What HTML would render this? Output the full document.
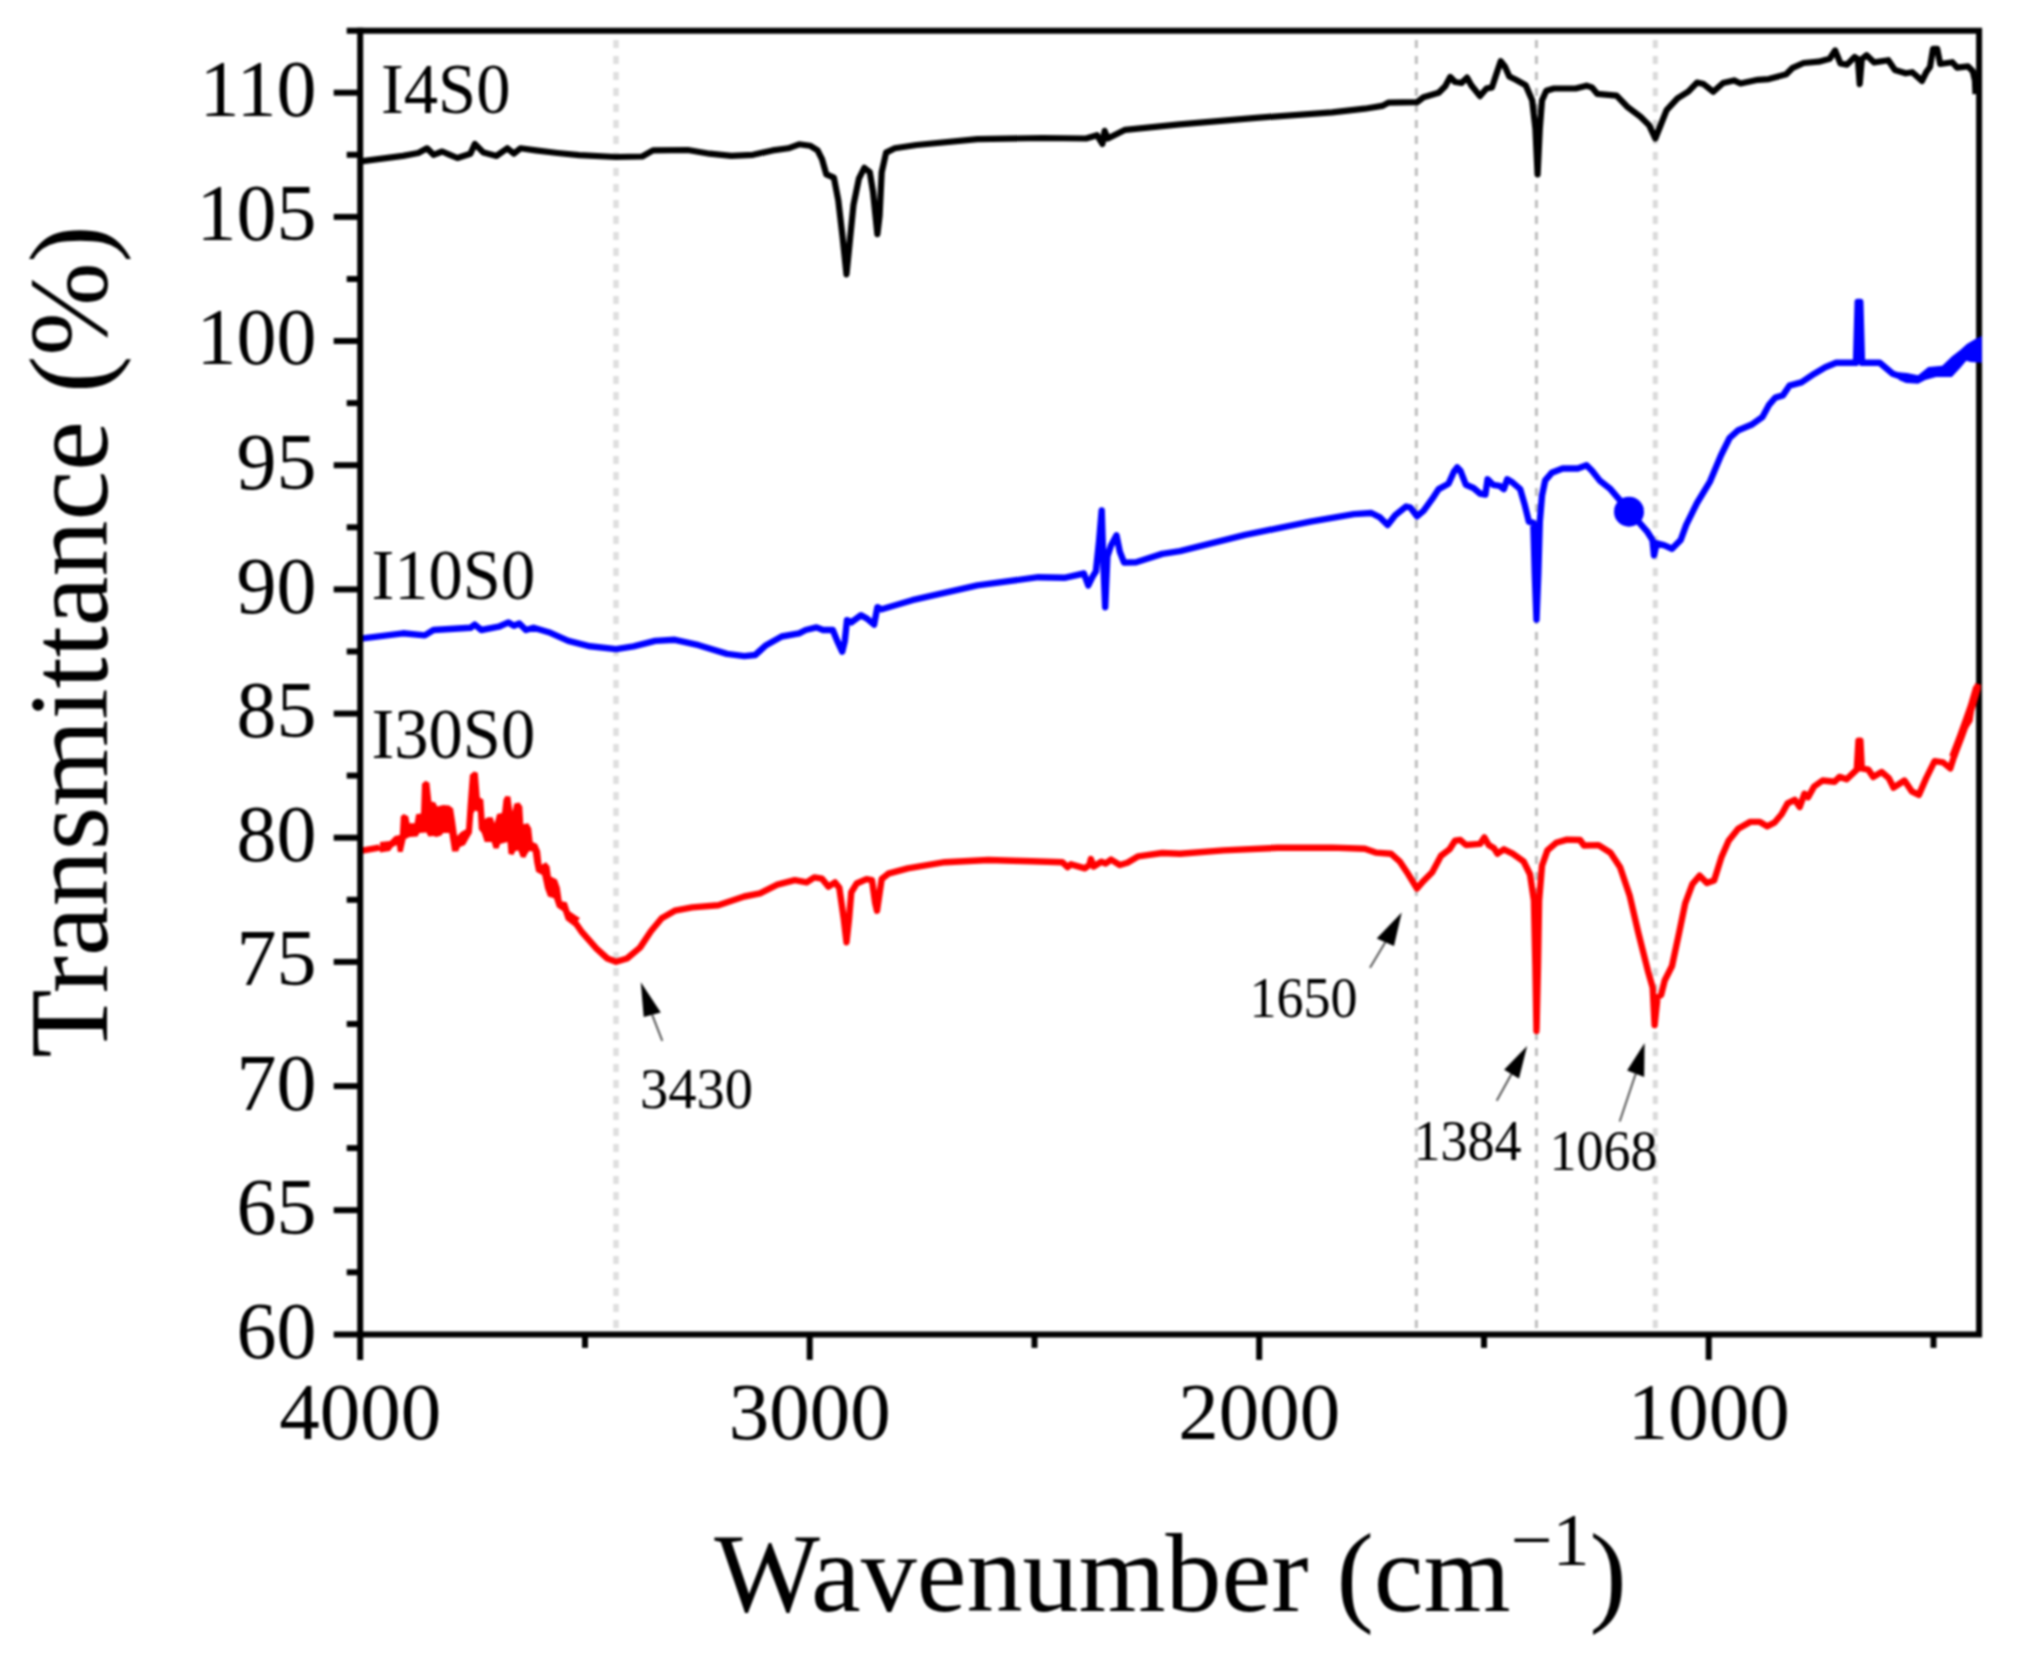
<!DOCTYPE html>
<html><head><meta charset="utf-8"><title>FTIR spectra</title>
<style>html,body{margin:0;padding:0;background:#fff}svg{display:block;filter:blur(0.8px)}</style></head>
<body>
<svg width="2024" height="1660" viewBox="0 0 2024 1660">
<rect width="2024" height="1660" fill="#fff"/>
<line x1="616" y1="40" x2="616" y2="1331" stroke="#dedede" stroke-width="5.5" stroke-dasharray="8 8"/>
<line x1="1416.3" y1="40" x2="1416.3" y2="1331" stroke="#bdbdbd" stroke-width="3" stroke-dasharray="8 8"/>
<line x1="1536.4" y1="40" x2="1536.4" y2="1331" stroke="#bdbdbd" stroke-width="3" stroke-dasharray="8 8"/>
<line x1="1655.3" y1="40" x2="1655.3" y2="1331" stroke="#dadada" stroke-width="5" stroke-dasharray="8 8"/>
<path d="M1979.1,27.7 V1337.4 M346.7,30.7 H1982.1 M333.7,1334.4 H1982.1" stroke="#000" stroke-width="6" fill="none"/>
<path d="M360.7,161.3 L403.0,155.9 L418.3,153.0 L427.0,148.3 L433.5,154.8 L442.2,151.5 L448.7,154.3 L457.4,158.0 L470.4,153.7 L474.8,143.9 L483.5,152.6 L496.5,155.9 L507.4,148.3 L513.9,153.7 L520.4,148.3 L535.7,150.4 L557.4,153.0 L579.1,155.2 L615.7,157.0 L642.2,156.5 L653.0,150.4 L687.8,150.0 L709.6,153.7 L731.3,155.9 L753.0,154.8 L772.6,150.4 L788.3,148.3 L799.1,144.3 L810.0,145.7 L817.6,150.4 L822.0,159.1 L826.3,174.3 L833.9,177.6 L838.3,200.4 L842.6,237.4 L846.5,274.3 L850.2,237.4 L853.5,204.8 L858.9,178.7 L864.3,167.8 L869.8,172.2 L873.0,191.7 L877.4,234.1 L879.6,215.7 L881.7,172.2 L886.1,152.6 L894.8,148.3 L916.5,145.0 L977.4,139.1 L1042.6,138.0 L1086.1,138.5 L1097.0,135.2 L1102.4,143.9 L1104.6,130.9 L1107.8,138.5 L1125.2,129.8 L1179.6,124.3 L1256.1,117.8 L1332.2,112.4 L1364.8,108.7 L1382.2,105.9 L1388.7,102.6 L1417.0,102.2 L1423.5,97.2 L1438.7,92.8 L1445.2,86.3 L1450.2,77.0 L1455.0,82.0 L1461.5,83.0 L1467.0,77.6 L1471.3,85.2 L1480.0,96.1 L1486.5,88.5 L1492.0,87.4 L1496.3,74.3 L1500.7,61.3 L1505.0,66.7 L1509.3,76.5 L1515.9,79.8 L1525.7,85.2 L1532.2,100.4 L1535.4,128.7 L1537.6,174.3 L1539.8,128.7 L1542.0,100.4 L1546.3,90.7 L1553.9,88.5 L1575.7,88.5 L1586.5,85.7 L1592.0,87.4 L1597.4,93.9 L1616.6,95.7 L1627.5,107.0 L1640.5,116.7 L1649.2,125.4 L1655.3,138.5 L1660.1,126.5 L1666.6,110.2 L1677.5,98.3 L1688.3,91.7 L1697.0,82.6 L1703.6,84.1 L1713.3,91.7 L1723.1,83.0 L1734.0,80.4 L1740.5,83.5 L1757.9,79.8 L1768.8,79.1 L1786.2,74.3 L1792.7,67.8 L1803.6,63.0 L1818.8,61.7 L1829.7,58.7 L1835.1,50.4 L1840.5,63.5 L1847.0,64.6 L1854.7,57.0 L1857.9,59.1 L1859.7,84.1 L1861.8,59.1 L1866.6,55.2 L1874.2,62.4 L1888.3,60.2 L1894.9,70.0 L1905.7,73.3 L1912.3,72.2 L1922.0,80.9 L1926.4,71.8 L1930.0,67.0 L1933.0,48.9 L1937.2,48.9 L1940.2,64.0 L1952.3,62.2 L1957.1,67.6 L1968.0,66.4 L1972.8,71.2 L1974.9,80.2 L1975.5,94.1" fill="none" stroke="#000" stroke-width="6.2" stroke-linejoin="round" stroke-linecap="butt"/>
<path d="M360.7,638.7 L403.0,633.3 L424.8,635.4 L433.5,630.0 L470.4,627.8 L474.8,624.6 L481.3,630.0 L498.7,626.7 L508.5,622.4 L513.9,625.7 L519.3,623.5 L525.9,630.0 L533.5,627.8 L548.7,632.2 L568.3,640.9 L590.0,646.3 L616.1,649.1 L633.5,646.3 L655.2,640.9 L674.8,639.8 L698.7,645.2 L727.0,653.9 L744.3,656.1 L755.2,655.0 L766.1,645.2 L781.7,636.5 L799.1,633.3 L805.7,630.0 L816.5,627.4 L823.0,630.0 L832.8,630.0 L837.2,640.9 L842.2,651.7 L844.8,640.9 L847.0,620.2 L851.3,622.4 L861.1,615.2 L867.6,619.1 L874.1,624.6 L877.4,607.2 L881.7,609.3 L912.2,600.2 L977.4,585.4 L1038.3,577.2 L1064.3,577.8 L1083.9,573.5 L1088.3,585.4 L1092.6,576.7 L1095.9,571.3 L1099.1,540.9 L1101.7,510.4 L1103.5,567.0 L1105.2,607.2 L1107.4,556.1 L1111.1,545.2 L1116.5,535.4 L1119.8,551.7 L1124.1,562.6 L1136.1,562.2 L1162.2,553.9 L1180.0,551.1 L1245.2,534.8 L1310.4,521.7 L1353.9,514.1 L1371.3,513.0 L1380.0,517.4 L1387.6,525.0 L1395.2,515.2 L1406.1,506.5 L1410.4,507.6 L1417.0,516.3 L1423.5,510.9 L1432.2,498.9 L1438.7,489.1 L1448.5,483.7 L1453.9,471.7 L1457.2,467.4 L1460.4,470.7 L1465.9,484.8 L1473.5,488.0 L1480.0,493.5 L1485.4,494.6 L1487.6,479.3 L1493.0,484.8 L1499.6,485.9 L1503.9,489.1 L1507.2,479.3 L1512.6,482.6 L1520.2,489.1 L1524.6,504.3 L1528.9,521.7 L1533.3,522.8 L1534.8,573.9 L1536.5,619.6 L1538.3,573.9 L1539.8,521.7 L1542.0,495.7 L1545.2,480.4 L1551.7,472.8 L1562.6,468.5 L1577.8,468.5 L1586.5,465.2 L1592.0,470.7 L1599.6,480.4 L1610.4,489.1 L1629.7,511.7 L1647.0,531.3 L1652.5,540.0 L1654.0,555.2 L1656.8,543.3 L1664.4,545.4 L1672.0,548.7 L1680.7,540.0 L1686.2,524.8 L1697.0,503.0 L1710.1,481.3 L1721.0,455.2 L1729.7,437.8 L1738.3,430.2 L1751.4,424.8 L1762.3,417.2 L1768.8,405.2 L1775.3,397.6 L1782.9,395.4 L1789.4,385.7 L1801.4,382.4 L1814.4,373.7 L1825.3,367.2 L1836.2,362.8 L1856.0,362.8 L1857.7,302.0 L1860.3,302.0 L1862.0,362.8 L1879.7,362.8 L1892.7,373.7 L1899.9,376.1" fill="none" stroke="#0000ff" stroke-width="6.4" stroke-linejoin="round"/>
<circle cx="1629" cy="511.7" r="15" fill="#0000ff"/>
<path d="M1898.8,372.3 L1907.2,372.9 L1918.1,375.3 L1928.3,366.9 L1942.2,365.7 L1951.8,356.6 L1960.2,350.0 L1966.9,344.0 L1976.2,338.6 L1981.9,336.1 L1981.9,362.7 L1970.5,362.0 L1966.3,360.8 L1960.2,368.1 L1951.8,377.1 L1936.1,377.1 L1925.3,380.1 L1918.1,383.7 L1906.0,383.1 L1898.8,380.1Z" fill="#0000ff" stroke="none"/>
<path d="M360.7,850.9 L379.1,847.6 L380.0,847.2" fill="none" stroke="#ff0000" stroke-width="6.4" stroke-linejoin="round"/>
<path d="M380.0,842.0 L389.9,841.0 L394.8,836.1 L399.8,835.1 L400.8,816.3 L403.7,813.9 L408.2,816.3 L409.6,823.2 L414.6,823.2 L416.1,814.3 L421.0,813.4 L422.0,783.7 L425.5,780.8 L429.4,782.7 L431.4,801.5 L435.3,802.5 L437.3,806.4 L443.2,805.0 L449.2,805.5 L453.1,808.4 L455.1,821.3 L457.1,836.1 L461.0,832.1 L466.0,829.2 L467.5,806.4 L469.9,774.8 L473.9,771.4 L477.8,772.8 L479.8,797.5 L483.3,799.5 L484.7,819.3 L487.7,817.3 L492.6,817.3 L494.6,823.2 L497.1,813.9 L502.0,812.9 L503.5,799.5 L505.5,796.1 L510.4,796.6 L512.4,811.4 L514.4,803.5 L519.3,802.5 L522.3,806.4 L523.3,824.2 L528.2,823.2 L531.2,828.2 L532.7,842.0 L537.1,844.0 L540.1,850.9 L541.6,864.7 L546.0,862.3 L549.5,866.2 L550.9,876.6 L556.9,879.6 L559.8,887.5 L561.8,901.3 L566.8,902.3 L569.7,911.2 L576.6,916.1 L580.0,918.1 L573.7,926.0 L565.8,920.0 L562.8,911.2 L556.9,907.2 L553.9,898.3 L548.0,896.4 L545.0,888.5 L542.1,875.1 L536.1,871.7 L534.2,862.8 L532.7,851.4 L529.2,850.9 L527.2,853.9 L525.3,857.8 L520.8,857.3 L518.3,850.4 L515.4,850.9 L513.4,854.9 L508.5,853.9 L507.5,842.0 L500.1,844.0 L498.6,848.4 L493.6,848.4 L491.7,842.0 L484.7,842.0 L481.8,833.1 L478.8,829.2 L477.8,811.4 L474.9,810.4 L473.4,813.4 L471.9,833.1 L468.9,838.1 L465.0,845.0 L460.0,847.0 L458.1,851.4 L452.1,851.4 L451.1,845.0 L449.2,833.1 L443.2,833.1 L441.3,835.6 L436.3,837.1 L433.4,836.1 L428.4,836.6 L426.4,832.6 L419.5,833.1 L417.5,836.6 L409.6,837.1 L405.7,839.1 L402.7,851.9 L397.8,851.9 L396.8,845.0 L392.8,847.0 L389.9,850.9 L380.0,852.4Z" fill="#ff0000" stroke="none"/>
<path d="M574.5,921.5 L581.3,931.3 L596.5,948.7 L607.4,958.5 L616.1,961.7 L627.0,958.5 L640.0,947.6 L650.9,931.3 L661.7,918.3 L674.8,910.7 L692.2,907.4 L718.3,905.2 L744.3,896.5 L760.0,893.3 L777.4,884.6 L794.8,880.2 L806.7,882.4 L814.3,877.4 L822.0,878.7 L828.5,886.7 L835.0,882.4 L839.3,887.8 L843.7,918.3 L846.5,942.2 L849.1,918.3 L851.3,892.2 L856.7,883.5 L866.5,879.1 L872.0,880.2 L875.2,903.0 L877.0,910.7 L879.1,896.5 L881.7,879.1 L888.3,873.7 L907.8,868.3 L944.8,862.2 L988.3,860.0 L1031.7,861.3 L1062.2,862.2 L1067.6,867.2 L1070.9,864.3 L1085.0,868.3 L1089.3,865.0 L1090.9,859.1 L1093.7,866.5 L1101.3,861.7 L1105.7,863.5 L1111.1,859.6 L1119.8,865.0 L1127.4,862.8 L1138.3,856.3 L1162.2,853.0 L1180.0,853.7 L1223.5,850.4 L1277.8,847.8 L1332.2,847.6 L1364.8,848.7 L1375.7,852.6 L1390.9,853.7 L1399.6,861.3 L1408.3,874.3 L1417.0,888.5 L1423.5,880.9 L1432.2,872.2 L1440.9,855.9 L1449.6,849.3 L1455.0,840.7 L1460.4,840.0 L1465.9,845.0 L1480.0,843.9 L1484.3,837.4 L1488.7,845.0 L1494.1,848.3 L1497.4,853.7 L1503.9,849.3 L1512.6,853.7 L1523.5,861.3 L1530.0,874.3 L1533.9,900.4 L1535.4,965.7 L1536.5,1030.9 L1538.0,965.7 L1539.1,900.4 L1542.0,865.7 L1547.4,850.4 L1556.1,842.8 L1567.0,839.6 L1580.0,840.0 L1584.0,845.5 L1598.5,845.1 L1610.5,852.8 L1620.1,867.2 L1629.8,896.1 L1638.2,932.3 L1647.9,970.8 L1652.7,987.7 L1654.6,1025.1 L1657.5,997.3 L1661.1,994.9 L1664.7,980.5 L1672.0,966.0 L1679.2,932.3 L1685.2,903.4 L1692.4,884.1 L1699.7,875.7 L1706.9,882.9 L1714.1,880.5 L1721.3,857.6 L1728.6,840.7 L1738.2,828.7 L1750.3,821.9 L1759.9,821.9 L1767.1,826.3 L1774.4,822.7 L1781.6,814.2 L1787.6,803.4 L1794.8,799.8 L1799.7,807.0 L1804.5,793.7 L1808.1,797.3 L1814.1,786.5 L1822.6,780.5 L1834.6,781.7 L1839.4,776.9 L1846.7,779.3 L1856.8,769.6 L1858.5,740.7 L1860.4,740.7 L1861.8,768.4 L1868.3,769.6 L1873.2,776.9 L1881.6,772.0 L1888.8,778.1 L1893.6,787.7 L1904.5,780.5 L1911.7,791.3 L1918.9,794.9 L1926.2,778.1 L1934.6,761.2 L1943.0,762.4 L1950.3,768.4 L1956.3,749.2 L1964.7,727.5 L1969.5,720.2 L1972.0,703.4 L1978.2,684.1" fill="none" stroke="#ff0000" stroke-width="6.4" stroke-linejoin="round"/>
<path d="M1953,757 L1961,736 L1966,722 L1972,705 L1977.2,687" fill="none" stroke="#ff0000" stroke-width="8" stroke-linejoin="round"/>
<g stroke="#000" stroke-width="6" fill="none" stroke-linecap="butt">
<path d="M360.2,27.7 V1359.9"/>
<path d="M333.7,1210.2 H360.2"/>
<path d="M333.7,1086.1 H360.2"/>
<path d="M333.7,961.9 H360.2"/>
<path d="M333.7,837.7 H360.2"/>
<path d="M333.7,713.6 H360.2"/>
<path d="M333.7,589.4 H360.2"/>
<path d="M333.7,465.2 H360.2"/>
<path d="M333.7,341.0 H360.2"/>
<path d="M333.7,216.9 H360.2"/>
<path d="M333.7,92.7 H360.2"/>
<path d="M346.7,1272.3 H360.2"/>
<path d="M346.7,1148.1 H360.2"/>
<path d="M346.7,1024.0 H360.2"/>
<path d="M346.7,899.8 H360.2"/>
<path d="M346.7,775.6 H360.2"/>
<path d="M346.7,651.5 H360.2"/>
<path d="M346.7,527.3 H360.2"/>
<path d="M346.7,403.1 H360.2"/>
<path d="M346.7,279.0 H360.2"/>
<path d="M346.7,154.8 H360.2"/>
<path d="M809.7,1334.4 V1359.9"/>
<path d="M1259.2,1334.4 V1359.9"/>
<path d="M1708.7,1334.4 V1359.9"/>
<path d="M585.0,1334.4 V1347.9"/>
<path d="M1034.5,1334.4 V1347.9"/>
<path d="M1484.0,1334.4 V1347.9"/>
<path d="M1933.5,1334.4 V1347.9"/>
</g>
<g font-family="'Liberation Serif', 'Times New Roman', serif" fill="#000">
<text x="316.5" y="1357.8" font-size="80" text-anchor="end">60</text>
<text x="316.5" y="1233.6" font-size="80" text-anchor="end">65</text>
<text x="316.5" y="1109.5" font-size="80" text-anchor="end">70</text>
<text x="316.5" y="985.3" font-size="80" text-anchor="end">75</text>
<text x="316.5" y="861.1" font-size="80" text-anchor="end">80</text>
<text x="316.5" y="737.0" font-size="80" text-anchor="end">85</text>
<text x="316.5" y="612.8" font-size="80" text-anchor="end">90</text>
<text x="316.5" y="488.6" font-size="80" text-anchor="end">95</text>
<text x="316.5" y="364.4" font-size="80" text-anchor="end">100</text>
<text x="316.5" y="240.3" font-size="80" text-anchor="end">105</text>
<text x="316.5" y="116.1" font-size="80" text-anchor="end">110</text>
<text x="360.2" y="1438.5" font-size="81" text-anchor="middle">4000</text>
<text x="809.7" y="1438.5" font-size="81" text-anchor="middle">3000</text>
<text x="1259.2" y="1438.5" font-size="81" text-anchor="middle">2000</text>
<text x="1708.7" y="1438.5" font-size="81" text-anchor="middle">1000</text>
<text transform="translate(381,113) scale(0.965,1)" font-size="71">I4S0</text>
<text transform="translate(371.5,599) scale(0.965,1)" font-size="71">I10S0</text>
<text transform="translate(371.5,758) scale(0.965,1)" font-size="71">I30S0</text>
<text transform="translate(640,1108) scale(1,1)" font-size="56.5">3430</text>
<text transform="translate(1249.5,1017) scale(0.965,1)" font-size="56">1650</text>
<text transform="translate(1413.5,1160) scale(0.965,1)" font-size="56">1384</text>
<text transform="translate(1549.5,1170) scale(0.965,1)" font-size="56">1068</text>
<text x="1170.5" y="1611" font-size="112" text-anchor="middle">Wavenumber (cm<tspan font-size="74" dy="-46">−1</tspan><tspan dy="46">)</tspan></text>
<text transform="translate(106.5,641.5) rotate(-90)" font-size="112" text-anchor="middle">Transmittance (%)</text>
</g>
<line x1="662.3" y1="1040.8" x2="652.2" y2="1014.8" stroke="#555" stroke-width="2"/>
<polygon points="640.8,982.2 643.7,1017 660.8,1012.6" fill="#000"/>
<line x1="1370" y1="967.8" x2="1385.3" y2="942.2" stroke="#555" stroke-width="2"/>
<polygon points="1401.7,912.4 1376.7,938.5 1394,946" fill="#000"/>
<line x1="1496.7" y1="1100.8" x2="1511.5" y2="1074.1" stroke="#555" stroke-width="2"/>
<polygon points="1527.1,1045.9 1504.1,1069.7 1519,1078.5" fill="#000"/>
<line x1="1619.7" y1="1121.5" x2="1635.7" y2="1073.7" stroke="#555" stroke-width="2"/>
<polygon points="1644.6,1043 1627.1,1070.4 1644.2,1077" fill="#000"/>
</svg>
</body></html>
